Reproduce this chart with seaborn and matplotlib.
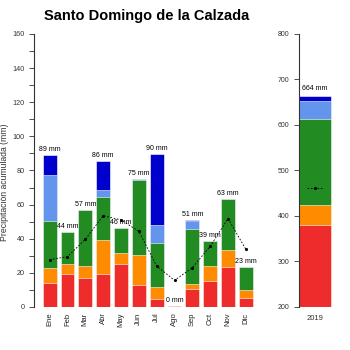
import numpy as np
import pandas as pd
import seaborn as sns
import matplotlib.pyplot as plt
from matplotlib.ticker import MultipleLocator

# ----------------------
# Data
# ----------------------
months = ['Ene', 'Feb', 'Mar', 'Abr', 'May', 'Jun', 'Jul', 'Ago', 'Sep', 'Oct', 'Nov', 'Dic']
red = [14.3, 19.1, 16.8, 19.1, 25.2, 12.7, 4.5, 0.5, 10.4, 15.2, 23.4, 5.3]
orange = [8.6, 5.9, 7.4, 19.9, 6.6, 18.0, 7.0, 0.0, 2.9, 8.8, 9.8, 4.9]
green = [27.3, 19.0, 32.4, 25.3, 14.7, 43.9, 25.8, 0.0, 32.2, 14.7, 29.9, 13.2]
lightblue = [27.3, 0.0, 0.0, 4.3, 0.0, 0.6, 10.6, 0.0, 4.9, 0.0, 0.0, 0.0]
blue = [11.8, 0.0, 0.0, 17.1, 0.0, 0.0, 41.7, 0.0, 0.4, 0.0, 0.0, 0.0]
monthly_mean = [27.7, 29.5, 39.6, 53.5, 51.0, 44.3, 24.0, 15.6, 23.0, 35.6, 51.8, 33.7]

year = ['2019']
year_red = [380]
year_orange = [45]
year_green = [187]
year_lightblue = [40]
year_blue = [12]
year_mean = [461]

layer_colors = ['#EE2C2C', '#FF8C00', '#228B22', '#6495ED', '#0000CD']

# ----------------------
# Figure setup
# ----------------------
sns.set_style('ticks')
plt.rcParams['font.family'] = ['Liberation Sans', 'DejaVu Sans']

fig = plt.figure(figsize=(3.5, 3.5), dpi=100)
ax = fig.add_axes([0.097, 0.123, 0.654, 0.78])
ax2 = fig.add_axes([0.854, 0.123, 0.10, 0.78])


def stacked(axis, cats, layers, width):
    # draw cumulative totals from the top layer down so lower layers overlay
    cum = np.cumsum(np.array(layers, dtype=float), axis=0)
    for i in range(len(layers) - 1, -1, -1):
        sns.barplot(x=cats, y=cum[i], color=layer_colors[i], saturation=1,
                    width=width, edgecolor='white', linewidth=0.4, ax=axis)
    return cum[-1]


# ----------------------
# Monthly panel
# ----------------------
totals = stacked(ax, months, [red, orange, green, lightblue, blue], 0.78)
for i, t in enumerate(totals):
    ax.text(i, t + 1.2, f'{int(round(t))} mm', ha='center', va='bottom',
            fontsize=5, color='black')

ax.plot(np.arange(len(months)), monthly_mean, color='black', lw=0.6,
        linestyle=(0, (2, 2)), marker='.', markersize=2.5)

ax.set_xlim(-0.88, 11.95)
ax.set_ylim(0, 160)
ax.yaxis.set_major_locator(MultipleLocator(20))
ax.yaxis.set_minor_locator(MultipleLocator(10))
ax.tick_params(axis='y', which='both', length=3.6, width=0.6, color='#333333',
               labelsize=5.2, labelcolor='#333333', pad=3)
ax.tick_params(axis='x', length=0, labelsize=5.5, labelcolor='#222222',
               rotation=90, pad=4)
ax.set_xlabel('')
ax.set_ylabel('Precipitación acumulada (mm)', fontsize=6.2, color='#333333')
ax.yaxis.set_label_coords(-0.108, 0.458)
sns.despine(ax=ax, bottom=True)
ax.spines['left'].set_linewidth(0.8)
ax.spines['left'].set_color('#333333')

# ----------------------
# Annual panel
# ----------------------
ytot = stacked(ax2, year, [year_red, year_orange, year_green, year_lightblue, year_blue], 1.0)
ax2.text(0, ytot[0] + 8, f'{int(round(ytot[0]))} mm', ha='center', va='bottom',
         fontsize=5, color='black')
ax2.plot([-0.25, 0.25], [year_mean[0]] * 2, color='black', lw=0.6,
         linestyle=(0, (2, 2)))
ax2.plot([0], year_mean, color='black', marker='.', markersize=2.5, lw=0)

ax2.set_xlim(-0.5, 0.6)
ax2.set_ylim(200, 800)
ax2.yaxis.set_major_locator(MultipleLocator(100))
ax2.tick_params(axis='y', length=3.6, width=0.6, color='#333333',
                labelsize=5, labelcolor='#333333', pad=3)
ax2.tick_params(axis='x', length=0, labelsize=5.5, labelcolor='#333333', pad=6)
ax2.set_xlabel('')
ax2.set_ylabel('')
sns.despine(ax=ax2, bottom=True)
ax2.spines['left'].set_linewidth(0.8)
ax2.spines['left'].set_color('#333333')

fig.text(0.418, 0.935, 'Santo Domingo de la Calzada', ha='center', va='bottom',
         fontsize=10.5, fontweight='bold', color='black')

plt.savefig('out.png', dpi=100)
plt.close()
